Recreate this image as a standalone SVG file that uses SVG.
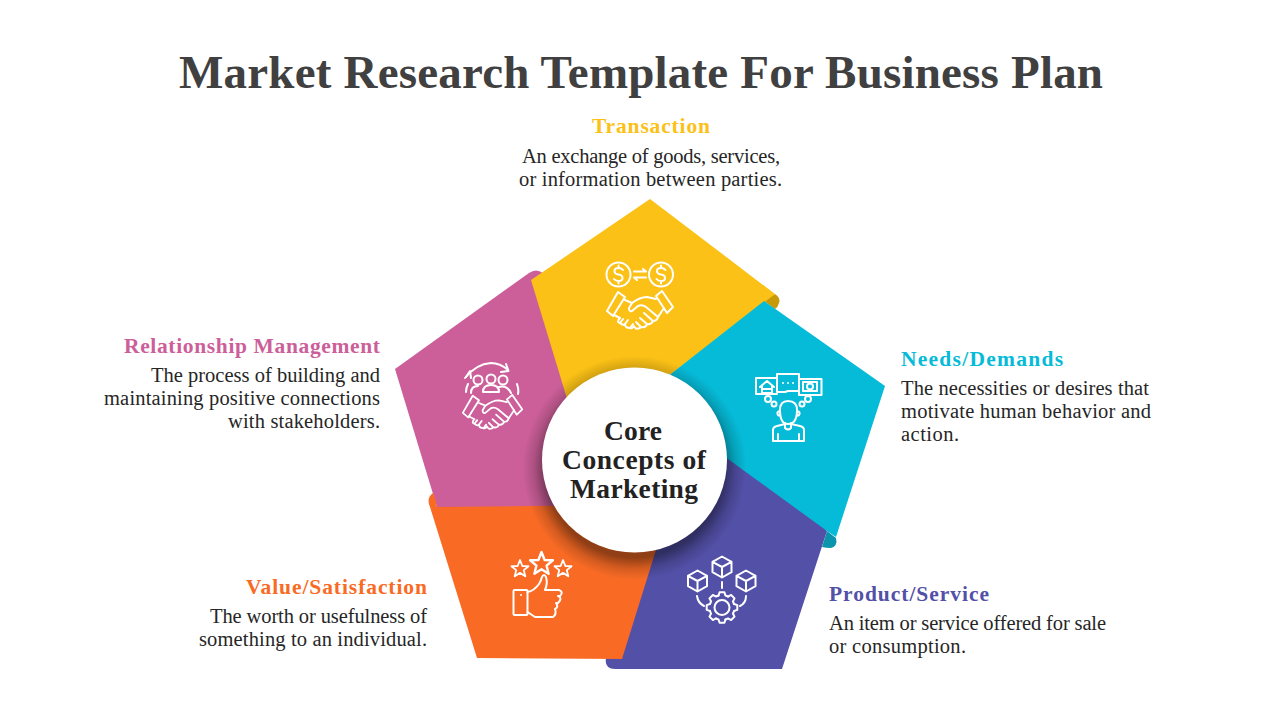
<svg xmlns="http://www.w3.org/2000/svg" xmlns:xlink="http://www.w3.org/1999/xlink" width="1280" height="720" viewBox="0 0 1280 720">
<style>
text{font-family:"Liberation Serif","DejaVu Serif",serif;fill:#262626}
.title{font-size:47px;font-weight:700;fill:#404040}
.head{font-size:21.5px;font-weight:700}
.body{font-size:20.5px}
.core{font-size:27.5px;font-weight:700;fill:#222;text-anchor:middle}
.ic{fill:none;stroke:#fff;stroke-width:2;stroke-linecap:round;stroke-linejoin:round}
.dot{fill:#fff;stroke:none}
.end{text-anchor:end}
</style>
<defs>
<radialGradient id="sh" gradientUnits="userSpaceOnUse" cx="634.5" cy="468" r="112">
<stop offset="0.8" stop-color="#000" stop-opacity="0.42"/>
<stop offset="0.9" stop-color="#000" stop-opacity="0.15"/>
<stop offset="1" stop-color="#000" stop-opacity="0"/>
</radialGradient>
<g id="shake">
<path d="M607 311L618 292L625 297L613 316Z"/>
<path d="M656 296L662 291L673 307L667 313Z"/>
<path d="M625 300L632 303Q640 297 647 297L656 299"/>
<path d="M632 303L629 308Q629 312 632 311L638 306Q642 304 646 307L658 317Q657 321 653 321L644 313M653 321Q651 325 647 324L640 318M647 324Q646 328 641 327L636 322"/>
<path d="M664 308L658 317"/>
<path d="M614 315L620 318M620 318Q616 322 620 323Q623 326 625 324Q625 328 630 328Q632 329 634 326Q635 330 640 328"/>
<path d="M625 324L628 320M630 328L633 324M620 323L623 319"/>
</g>
<path id="star" d="M0-10L2.6-3.3L9.5-3.1L4.2 1.3L5.9 8.1L0 4.3L-5.9 8.1L-4.2 1.3L-9.5-3.1L-2.6-3.3Z"/>
<path id="cube" d="M0-10.5L9.5-5.2V5.2L0 10.5L-9.5 5.2V-5.2ZM-9.5-5.2L0 0L9.5-5.2M0 0V10.5"/>
<path id="tooth" d="M-3.45-12L-2.42-15.3H2.42L3.45-12A12.5 12.5 0 0 1 6.06-10.93"/>
<path id="dollar" d="M4.5-4.5Q3-6.5 0-6.5Q-4-6.5-4-3.5Q-4-.5 0 0Q4 .5 4 3.5Q4 6.5 0 6.5Q-3 6.5-4.5 4.5M0-9V-6.5M0 6.5V9"/>
</defs>
<rect width="1280" height="720" fill="#fff"/>
<text class="title" x="179" y="88" textLength="924" lengthAdjust="spacing">Market Research Template For Business Plan</text>

<g id="node-relationship">
<path fill="#CC5F99" d="M395 369L529 273Q536 268 543 273L600 400V507H437Z"/>
<g class="ic">
<path d="M465 378Q476 364 491 363Q500 363 508 370M506 364L508.500 371L501 372"/>
<path d="M466 377L470 371L471 378M468 384Q466 388 466 392M517 384Q519 390 518 394"/>
<circle cx="478" cy="380" r="4.500"/><circle cx="491" cy="379" r="4.500"/><circle cx="503" cy="380" r="4.500"/>
<path d="M471 393Q471 386 478 386M483 392Q483 385 491 385Q499 385 499 392H483M499 387Q507 385 511 393"/>
<use xlink:href="#shake" href="#shake" transform="translate(492.500 412) scale(.9) translate(-640 -310)"/>
</g>
<text class="head" x="380" y="353" textLength="256" lengthAdjust="spacing" style="fill:#CC5F99" text-anchor="end">Relationship Management</text>
<text class="body end" x="380" y="382" textLength="229">The process of building and</text>
<text class="body end" x="380" y="405" textLength="276">maintaining positive connections</text>
<text class="body end" x="380" y="428" textLength="152">with stakeholders.</text>
</g>

<g id="node-transaction">
<path fill="#C99A07" d="M764 301L775 294Q781 298 779 303Q778 307 775 309Z"/>
<path fill="#FBC116" d="M650 199L775 294L640 398L575 425L531 280Z"/>
<g class="ic">
<circle cx="618.500" cy="274.500" r="12"/><circle cx="661" cy="274.500" r="12"/>
<use xlink:href="#dollar" href="#dollar" transform="translate(618.500 274.500)"/>
<use xlink:href="#dollar" href="#dollar" transform="translate(661 274.500)"/>
<path d="M634 271.500H646L643 269M646 277.500H634L637 280"/>
<use xlink:href="#shake" href="#shake"/>
</g>
<text class="head" x="592" y="133" textLength="118" style="fill:#FBC116">Transaction</text>
<text class="body" x="522" y="163" textLength="258">An exchange of goods, services,</text>
<text class="body" x="519" y="186" textLength="263">or information between parties.</text>
</g>

<g id="node-product">
<path fill="#0C94AC" d="M827 531L836 538Q838 546 831 548Q826 548 822 547Z"/>
<path fill="#5350A8" d="M827 531L782 669H615Q604 669 606 658L640 500V400L760 450Z"/>
<g class="ic">
<use xlink:href="#cube" href="#cube" transform="translate(722 567)"/>
<use xlink:href="#cube" href="#cube" transform="translate(697.500 581)"/>
<use xlink:href="#cube" href="#cube" transform="translate(746 581)"/>
<path d="M722 582V588M697 596Q698 603 704 606M746 596Q746 603 740 606"/>
<circle cx="722" cy="607.500" r="7.500"/>
<g transform="translate(722 607.500)">
<use xlink:href="#tooth" href="#tooth"/>
<use xlink:href="#tooth" href="#tooth" transform="rotate(45)"/>
<use xlink:href="#tooth" href="#tooth" transform="rotate(90)"/>
<use xlink:href="#tooth" href="#tooth" transform="rotate(135)"/>
<use xlink:href="#tooth" href="#tooth" transform="rotate(180)"/>
<use xlink:href="#tooth" href="#tooth" transform="rotate(225)"/>
<use xlink:href="#tooth" href="#tooth" transform="rotate(270)"/>
<use xlink:href="#tooth" href="#tooth" transform="rotate(315)"/>
</g>
</g>
<text class="head" x="829" y="601" textLength="160" style="fill:#5350A8">Product/Service</text>
<text class="body" x="829" y="630" textLength="277">An item or service offered for sale</text>
<text class="body" x="829" y="653" textLength="137">or consumption.</text>
</g>

<g id="node-needs">
<path fill="#06BBD8" d="M764 301L885 386L836 537L827 531L680 424L660 382.400Z"/>
<g class="ic">
<path d="M777 394H756V378H777M799 379H821.500V395H799V379"/>
<path d="M777 374H799V391H788L785 392H777Z"/>
<path d="M760 387L767 381L774 387M762 386V393H772V386M762 389H772"/>
<rect x="803" y="382" width="14" height="9"/>
<circle cx="810" cy="386.500" r="3"/>
<circle cx="768" cy="399" r="3"/><circle cx="774" cy="404" r="2.500"/>
<circle cx="808" cy="399" r="3"/><circle cx="802" cy="404" r="2.500"/>
<path d="M780 410Q780 401 788 401Q797 401 797 410Q797 424 788 424Q780 424 780 410Z"/>
<path d="M780 411Q776 412 778 415Q779 416 780 415M797 411Q801 412 799 415Q798 416 797 415"/>
<path d="M785 423V428Q788 431 791 428V423"/>
<path d="M773 441V430Q773 427 777 426L785 424M804 441V430Q804 427 800 426L791 424M773 441H804M778 441V434M799 441V434"/>
</g>
<g class="dot"><circle cx="783" cy="383" r="1"/><circle cx="788" cy="383" r="1"/><circle cx="793" cy="383" r="1"/></g>
<text class="head" x="901" y="366" textLength="162" style="fill:#06BBD8">Needs/Demands</text>
<text class="body" x="901" y="395" textLength="248">The necessities or desires that</text>
<text class="body" x="901" y="418" textLength="250">motivate human behavior and</text>
<text class="body" x="901" y="441" textLength="58">action.</text>
</g>

<g id="node-value">
<path fill="#F96B25" d="M433 493Q436 499 437 507L634 505H670L622 659L477 658L430 507Q426 498 433 493Z"/>
<g class="ic">
<use xlink:href="#star" href="#star" transform="translate(520 569) scale(.9)"/>
<use xlink:href="#star" href="#star" transform="translate(541.500 564) scale(1.2)"/>
<use xlink:href="#star" href="#star" transform="translate(563 569) scale(.9)"/>
<rect x="513.500" y="590" width="14" height="25" rx="1"/>
<path d="M527.500 592Q534 591 539 584Q541 581 542 577Q544 573 546 577Q548 583 545 590H559Q564 592 560 596H558Q563 598 558 603H556Q559 607 555 609Q557 614 553 617H535L527.500 612"/>
</g>
<circle class="dot" cx="521" cy="595" r="1"/>
<text class="head" x="246" y="594" textLength="181" style="fill:#F96B25">Value/Satisfaction</text>
<text class="body end" x="427" y="623" textLength="217">The worth or usefulness of</text>
<text class="body end" x="427" y="646" textLength="228">something to an individual.</text>
</g>

<g id="node-core">
<circle cx="634.500" cy="468" r="112" fill="url(#sh)"/>
<circle cx="634.500" cy="460" r="92.500" fill="#fff"/>
<text class="core" x="633" y="440" textLength="58">Core</text>
<text class="core" x="634" y="469" textLength="144">Concepts of</text>
<text class="core" x="634" y="498" textLength="128">Marketing</text>
</g>
</svg>
